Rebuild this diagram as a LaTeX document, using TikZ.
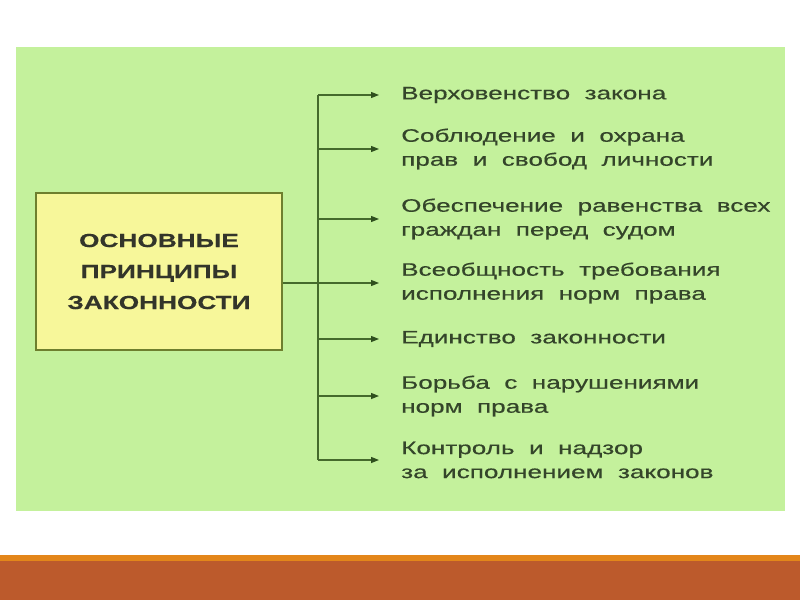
\documentclass[tikz,border=0pt]{standalone}
\usepackage{fontspec}
\setmainfont{Liberation Sans}
\newfontfamily\itemfont[FakeStretch=1.45, WordSpace=2, FakeBold=0.4]{Liberation Sans}
\newfontfamily\boxfont[FakeStretch=1.38, FakeBold=0.3]{Liberation Sans}
\usetikzlibrary{arrows.meta}
\definecolor{panelgreen}{HTML}{C4F19C}
\definecolor{linegreen}{HTML}{456A2C}
\definecolor{arrowgreen}{HTML}{2F4F1E}
\definecolor{boxyellow}{HTML}{F7F79A}
\definecolor{boxborder}{HTML}{6E7F2E}
\definecolor{itemtext}{HTML}{34452A}
\definecolor{boxtext}{HTML}{33352A}
\definecolor{stripA}{HTML}{E3861A}
\definecolor{stripB}{HTML}{BC5A2C}
\tikzset{
  itembox/.style={anchor=west, inner sep=0pt, align=left, text=itemtext,
    font=\itemfont\fontsize{18}{24}\selectfont},
  mainbox/.style={draw=boxborder, line width=2pt, fill=boxyellow, minimum width=246pt,
    minimum height=157pt, align=center, text=boxtext, inner sep=0pt,
    font=\boxfont\bfseries\fontsize{19}{31}\selectfont},
  conn/.style={draw=linegreen, line width=1.3pt},
  arr/.style={conn, -{Triangle[length=8pt,width=6pt,fill=arrowgreen,color=arrowgreen]}, shorten >=22pt}
}
\begin{document}
\begin{tikzpicture}[x=1pt,y=-1pt]
\useasboundingbox (0,0) rectangle (800,600);
\fill[panelgreen] (16,47) rectangle (785,511);
\fill[stripA] (0,555) rectangle (800,561);
\fill[stripB] (0,561) rectangle (800,600);
\node[mainbox] (box) at (159,271.5) {ОСНОВНЫЕ\\ПРИНЦИПЫ\\ЗАКОННОСТИ};
\node[itembox] (t1) at (401,95) {Верховенство закона};
\node[itembox] (t2) at (401,149) {Соблюдение и охрана\\прав и свобод личности};
\node[itembox] (t3) at (401,219) {Обеспечение равенства всех\\граждан перед судом};
\node[itembox] (t4) at (401,283) {Всеобщность требования\\исполнения норм права};
\node[itembox] (t5) at (401,339) {Единство законности};
\node[itembox] (t6) at (401,396) {Борьба с нарушениями\\норм права};
\node[itembox] (t7) at (401,460) {Контроль и надзор\\за исполнением законов};
\coordinate (top) at (318,93);
\coordinate (bot) at (318,459);
\draw[conn] (top |- t1.west) -- (bot |- t7.west);
\foreach \t in {t1,t2,t3,t5,t6,t7}{
  \draw[arr] (top |- \t.west) -- (\t.west);
}
\draw[arr] (box.east |- t4.west) -- (t4.west);
\end{tikzpicture}
\end{document}
